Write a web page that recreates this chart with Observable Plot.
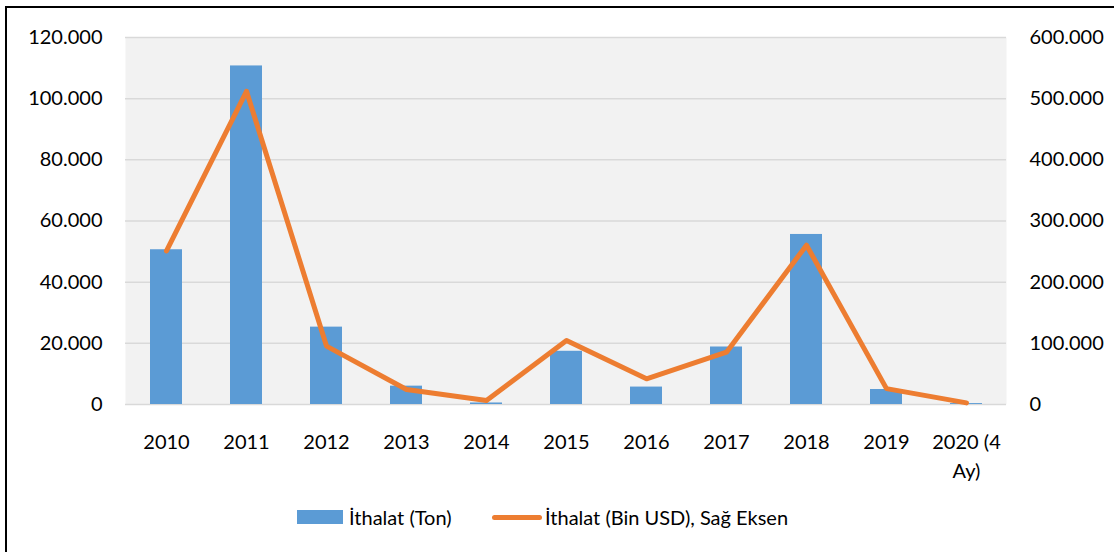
<!DOCTYPE html>
<html><head><meta charset="utf-8">
<script src="https://cdn.jsdelivr.net/npm/d3@7"></script>
<script src="https://cdn.jsdelivr.net/npm/@observablehq/plot@0.6"></script>
<style>
body{margin:0;background:#fff;font-family:Lato,"Open Sans",sans-serif;}
#wrap{position:relative;width:1114px;height:552px;overflow:hidden;background:#fff;}
#border{position:absolute;left:5px;top:6px;width:1200px;height:600px;border:2px solid #000;box-sizing:border-box;}
#chart{position:absolute;left:0;top:0;}
.leg{position:absolute;top:505px;height:24px;display:flex;align-items:center;font-size:20px;color:#000;white-space:nowrap;}
.sw-bar{width:46px;height:14px;background:#5B9BD5;margin-right:6px;}
.sw-line{width:50px;height:5px;border-radius:3px;background:#ED7D31;margin-right:3px;}
</style></head>
<body>
<div id="wrap">
  <div id="border"></div>
  <div id="chart"></div>
  <div class="leg" style="left:297px"><div class="sw-bar"></div><span id="l1"></span></div>
  <div class="leg" style="left:492px"><div class="sw-line"></div><span id="l2"></span></div>
</div>
<script>
const years = ["2010","2011","2012","2013","2014","2015","2016","2017","2018","2019","2020 (4 Ay)"];
const tons = [50600, 110700, 25300, 6000, 500, 17400, 5700, 18800, 55600, 4900, 300];
const usd = [251000, 512000, 95500, 24500, 6500, 104500, 42000, 85500, 260500, 26000, 2600];
const leftTicks = [0, 20000, 40000, 60000, 80000, 100000, 120000];
const rightTicks = [0, 100000, 200000, 300000, 400000, 500000, 600000];
const seriesNames = ["İthalat (Ton)", "İthalat (Bin USD), Sağ Eksen"];

const ratio = 600000 / 120000;
const locale = d3.formatLocale({decimal: ",", thousands: ".", grouping: [3], currency: ["", ""]});
const fmt = locale.format(",");

const data = years.map((y, i) => ({year: y, ton: tons[i], usd: usd[i]}));

document.getElementById("l1").textContent = seriesNames[0];
document.getElementById("l2").textContent = seriesNames[1];

const chart = Plot.plot({
  width: 1114,
  height: 480,
  marginTop: 37,
  marginBottom: 76,
  marginLeft: 125,
  marginRight: 108,
  style: {fontFamily: "Lato, 'Open Sans', sans-serif", fontSize: "20px", color: "#000", background: "transparent", overflow: "visible"},
  x: {type: "band", domain: years, paddingInner: 0.6, paddingOuter: 0.3, label: null},
  y: {domain: [0, 120000], label: null},
  marks: [
    Plot.frame({fill: "#F2F2F2", stroke: null}),
    Plot.gridY(leftTicks, {stroke: "#D9D9D9", strokeOpacity: 1, strokeWidth: 1.5}),
    Plot.barY(data, {x: "year", y: "ton", fill: "#5B9BD5"}),
    Plot.line(data, {x: "year", y: d => d.usd / ratio, stroke: "#ED7D31", strokeWidth: 5, strokeLinecap: "round", strokeLinejoin: "round"}),
    Plot.axisY(leftTicks, {anchor: "left", tickSize: 0, tickPadding: 23, tickFormat: fmt, label: null, fontSize: 20}),
    Plot.axisY(rightTicks.map(v => v / ratio), {anchor: "right", tickSize: 0, tickPadding: 23, tickFormat: d => fmt(Math.round(d * ratio)), label: null, fontSize: 20}),
    Plot.axisX({anchor: "bottom", tickSize: 0, tickPadding: 24, tickFormat: d => d.replace("(4 ", "(4\n"), label: null, fontSize: 20, lineHeight: 1.45})
  ]
});
document.getElementById("chart").appendChild(chart);
</script>
</body></html>
